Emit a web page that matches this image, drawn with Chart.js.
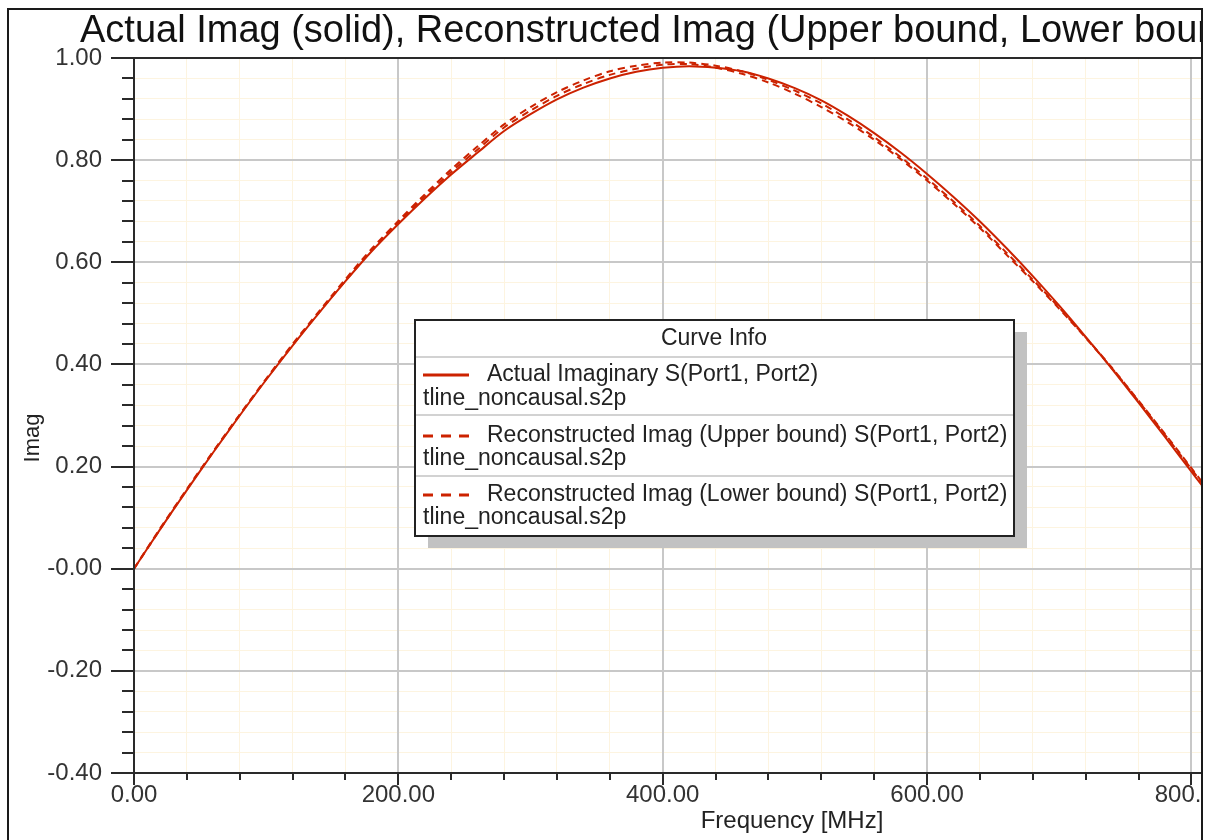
<!DOCTYPE html>
<html><head><meta charset="utf-8">
<script src="https://cdn.jsdelivr.net/npm/chart.js@4.4.1/dist/chart.umd.min.js"></script>
<style>html,body{margin:0;padding:0;background:#fff;}canvas{display:block;}</style>
</head><body>
<canvas id="c" width="1214" height="840"></canvas>
<script>
// ---- data ----
const freqMHz = [0,20,40,60,80,100,120,140,160,180,200,220,240,260,280,300,320,340,360,380,400,420,440,460,480,500,520,540,560,580,600,620,640,660,680,700,720,740,760,780,800,808];
const actualImag = [0.000,0.078,0.154,0.228,0.300,0.370,0.437,0.501,0.563,0.622,0.675,0.725,0.772,0.815,0.857,0.890,0.919,0.942,0.960,0.973,0.981,0.984,0.981,0.974,0.960,0.941,0.917,0.887,0.853,0.815,0.773,0.728,0.680,0.628,0.573,0.515,0.454,0.391,0.325,0.258,0.190,0.163];
const upperImag = [0.000,0.080,0.156,0.230,0.302,0.372,0.440,0.504,0.567,0.627,0.681,0.733,0.782,0.827,0.870,0.904,0.933,0.956,0.974,0.985,0.991,0.991,0.985,0.974,0.957,0.936,0.911,0.880,0.845,0.806,0.764,0.719,0.671,0.619,0.566,0.511,0.453,0.393,0.329,0.264,0.197,0.170];
const lowerImag = [0.000,0.078,0.155,0.229,0.301,0.371,0.438,0.502,0.564,0.624,0.678,0.729,0.777,0.821,0.864,0.897,0.926,0.949,0.967,0.979,0.987,0.988,0.981,0.969,0.952,0.930,0.904,0.874,0.840,0.802,0.760,0.715,0.667,0.615,0.563,0.509,0.452,0.392,0.328,0.262,0.195,0.168];
const yTickLabels = ['-0.40','-0.20','-0.00','0.20','0.40','0.60','0.80','1.00'];
const xTickLabels = ['0.00','200.00','400.00','600.00','800.00'];
const titleText = 'Actual Imag (solid), Reconstructed Imag (Upper bound, Lower bound)';
const xAxisTitle = 'Frequency [MHz]';
const yAxisTitle = 'Imag';
const legendTitle = 'Curve Info';
const legendNames = ['Actual Imaginary S(Port1, Port2)','Reconstructed Imag (Upper bound) S(Port1, Port2)','Reconstructed Imag (Lower bound) S(Port1, Port2)'];
const legendFile = 'tline_noncausal.s2p';

const RED = '#cc2200';
const FONT = '"Liberation Sans", Arial, sans-serif';
const isMajorY = v => Math.abs(v/0.2 - Math.round(v/0.2)) < 1e-6;
const isMajorX = v => Math.abs(v/200 - Math.round(v/200)) < 1e-6;

const toXY = arr => arr.map((v,i) => ({x: freqMHz[i], y: v}));

const deco = {
  id: 'deco',
  beforeDatasetsDraw(chart) {
    const {ctx, chartArea: a, scales: {x, y}} = chart;
    ctx.save();
    ctx.strokeStyle = '#c8c8c8'; ctx.lineWidth = 2;
    x.ticks.forEach(t => { if (isMajorX(t.value)) { const px = Math.round(x.getPixelForValue(t.value)); ctx.beginPath(); ctx.moveTo(px, a.top); ctx.lineTo(px, a.bottom); ctx.stroke(); }});
    y.ticks.forEach(t => { if (isMajorY(t.value)) { const py = Math.round(y.getPixelForValue(t.value)); ctx.beginPath(); ctx.moveTo(a.left, py); ctx.lineTo(a.right, py); ctx.stroke(); }});
    ctx.restore();
  },
  afterDraw(chart) {
    const {ctx, chartArea: a, scales: {x, y}} = chart;
    ctx.save();
    ctx.strokeStyle = '#2a2a2a'; ctx.lineWidth = 2;
    y.ticks.forEach(t => { const py = Math.round(y.getPixelForValue(t.value)); const len = isMajorY(t.value) ? 23 : 12; ctx.beginPath(); ctx.moveTo(a.left - len, py); ctx.lineTo(a.left, py); ctx.stroke(); });
    x.ticks.forEach(t => { const px = Math.round(x.getPixelForValue(t.value)); const len = isMajorX(t.value) ? 12 : 7; ctx.beginPath(); ctx.moveTo(px, a.bottom); ctx.lineTo(px, a.bottom + len); ctx.stroke(); });
    ctx.strokeRect(a.left, a.top, a.right - a.left, a.bottom - a.top);
    ctx.fillStyle = '#fff'; ctx.fillRect(1203, 0, 20, 840);
    ctx.strokeStyle = '#1a1a1a'; ctx.lineWidth = 2;
    ctx.beginPath(); ctx.moveTo(8, 842); ctx.lineTo(8, 9); ctx.lineTo(1202, 9); ctx.lineTo(1202, 842); ctx.stroke();
    ctx.save();
    ctx.beginPath(); ctx.rect(9, 10, 1192, 47); ctx.clip();
    ctx.fillStyle = '#111'; ctx.font = '38px ' + FONT; ctx.textBaseline = 'alphabetic'; ctx.textAlign = 'left';
    ctx.fillText(titleText, 80, 42);
    ctx.restore();
    ctx.fillStyle = '#222'; ctx.font = '24px ' + FONT; ctx.textAlign = 'center'; ctx.textBaseline = 'middle';
    ctx.fillText(xAxisTitle, 792, 821);
    ctx.save(); ctx.translate(33, 438); ctx.rotate(-Math.PI/2); ctx.font = '22px ' + FONT; ctx.fillText(yAxisTitle, 0, 0); ctx.restore();
    const L = 415, T = 320, W = 599, H = 216;
    ctx.fillStyle = '#c2c2c2'; ctx.fillRect(L + 13, T + 12, W, H);
    ctx.fillStyle = '#fff'; ctx.fillRect(L, T, W, H);
    ctx.strokeStyle = '#d2d2d2'; ctx.lineWidth = 2;
    [357, 415, 476].forEach(yy => { ctx.beginPath(); ctx.moveTo(L + 1, yy); ctx.lineTo(L + W - 1, yy); ctx.stroke(); });
    ctx.strokeStyle = '#222'; ctx.lineWidth = 2; ctx.strokeRect(L, T, W, H);
    ctx.fillStyle = '#222'; ctx.font = '23px ' + FONT; ctx.textAlign = 'center'; ctx.textBaseline = 'middle';
    ctx.fillText(legendTitle, 714, 339);
    ctx.textAlign = 'left';
    const rows = [[375, 399], [436, 459], [495, 518]];
    rows.forEach((r, i) => {
      ctx.strokeStyle = RED; ctx.lineWidth = 3;
      ctx.setLineDash(i === 0 ? [] : [10, 8]);
      ctx.beginPath(); ctx.moveTo(423, r[0]); ctx.lineTo(469, r[0]); ctx.stroke();
      ctx.setLineDash([]);
      ctx.fillText(legendNames[i], 487, r[0]);
      ctx.fillText(legendFile, 423, r[1]);
    });
    ctx.restore();
  }
};

new Chart(document.getElementById('c'), {
  type: 'line',
  data: { datasets: [
    { label: legendNames[0], data: toXY(actualImag), borderColor: RED, borderWidth: 2, pointRadius: 0, tension: 0.3 },
    { label: legendNames[1], data: toXY(upperImag), borderColor: RED, borderWidth: 2, borderDash: [7, 5], pointRadius: 0, tension: 0.3 },
    { label: legendNames[2], data: toXY(lowerImag), borderColor: RED, borderWidth: 2, borderDash: [7, 5], pointRadius: 0, tension: 0.3 }
  ]},
  options: {
    responsive: false, maintainAspectRatio: false, animation: false,
    layout: { padding: { top: 58, right: 12, left: 0, bottom: 0 } },
    plugins: { legend: { display: false }, title: { display: false }, tooltip: { enabled: false } },
    scales: {
      x: { type: 'linear', min: 0, max: 808,
        afterFit: s => { s.height = 67; s.paddingLeft = 0; s.paddingRight = 0; },
        ticks: { stepSize: 40, autoSkip: false, maxRotation: 0, includeBounds: false, padding: 8, color: '#333', font: { family: FONT, size: 24 },
          callback: v => isMajorX(v) ? xTickLabels[Math.round(v/200)] : '' },
        grid: { drawTicks: false, color: '#fdf4e0', lineWidth: 1 },
        border: { display: false } },
      y: { type: 'linear', min: -0.4, max: 1.0,
        afterFit: s => { s.width = 134; s.paddingTop = 0; s.paddingBottom = 0; },
        ticks: { stepSize: 0.04, autoSkip: false, includeBounds: false, padding: 32, color: '#333', font: { family: FONT, size: 24 },
          callback: v => isMajorY(v) ? yTickLabels[Math.round((v + 0.4)/0.2)] : '' },
        grid: { drawTicks: false, color: '#fdf4e0', lineWidth: 1 },
        border: { display: false } }
    }
  },
  plugins: [deco]
});
</script>
</body></html>
